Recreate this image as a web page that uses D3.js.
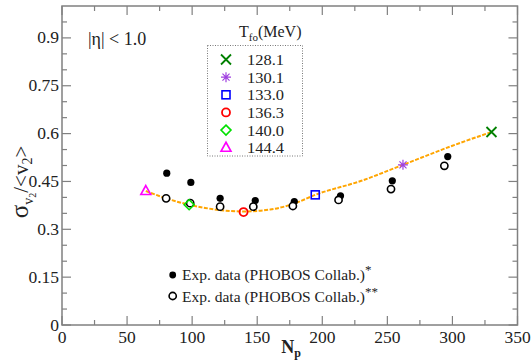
<!DOCTYPE html>
<html><head><meta charset="utf-8">
<script src="https://cdn.jsdelivr.net/npm/d3@7"></script>
<style>body{margin:0;background:#fff}svg{display:block}text{font-family:"Liberation Serif","DejaVu Serif",serif}</style>
</head><body><svg id="c" width="532" height="363"></svg>
<script>
const xTicks=[0,50,100,150,200,250,300,350];
const yTicks=[0,0.15,0.3,0.45,0.6,0.75,0.9];
const yTickLabels=["0","0.15","0.3","0.45","0.6","0.75","0.9"];
const filledX=[80.5,99,121.5,148.5,178.5,214,253.8,296.4];
const filledY=[0.476,0.447,0.397,0.390,0.387,0.405,0.452,0.528];
const openX=[80,98.5,121.5,147,177.4,212.5,252.8,293.8];
const openY=[0.397,0.382,0.371,0.371,0.373,0.392,0.426,0.499];
const curveX=[64.4,80,97.7,110,121.5,139.5,160,178,194.6,230,262,300,330];
const curveY=[0.420,0.397,0.377,0.367,0.360,0.356,0.362,0.380,0.408,0.452,0.502,0.562,0.605];
const tfoLabels=["128.1","130.1","133.0","136.3","140.0","144.4"];
const tfoX=[330,262,194.6,139.5,97.7,64.4];
const tfoY=[0.605,0.502,0.408,0.354,0.377,0.420];
const tfoColors=["#008000","#a040e0","#0000ff","#ff0000","#00e000","#ff00ff"];
const tfoShapes=["x","star","square","circle","diamond","triangle"];

const svg=d3.select("#c");
const L=62,R=517.5,T=6,B=325;
const x=d3.scaleLinear().domain([0,350]).range([L,R]);
const y=d3.scaleLinear().domain([0,1]).range([B,T]);
const frameCol="#808080";

svg.append("rect").attr("x",L).attr("y",T).attr("width",R-L).attr("height",B-T)
  .attr("fill","none").attr("stroke",frameCol).attr("stroke-width",1.5);

const xMinor=d3.range(25,350,50);
const yMinor=[0.05,0.1,0.2,0.25,0.35,0.4,0.5,0.55,0.65,0.7,0.8,0.85,0.95];
const tk=svg.append("g").attr("stroke",frameCol).attr("stroke-width",1.2);
function xt(v,len){tk.append("line").attr("x1",x(v)).attr("x2",x(v)).attr("y1",B).attr("y2",B-len);
  tk.append("line").attr("x1",x(v)).attr("x2",x(v)).attr("y1",T).attr("y2",T+len);}
function yt(v,len){tk.append("line").attr("y1",y(v)).attr("y2",y(v)).attr("x1",L).attr("x2",L+len);
  tk.append("line").attr("y1",y(v)).attr("y2",y(v)).attr("x1",R).attr("x2",R-len);}
xTicks.forEach(v=>xt(v,9)); xMinor.forEach(v=>xt(v,5));
yTicks.forEach(v=>yt(v,9)); yMinor.forEach(v=>yt(v,5));

svg.append("g").selectAll("text").data(xTicks).join("text")
  .attr("x",d=>x(d)).attr("y",B+18).attr("text-anchor","middle")
  .attr("font-size",17.5).attr("fill","#222").text(d=>d);
svg.append("g").selectAll("text").data(yTicks).join("text")
  .attr("x",L-3).attr("y",d=>y(d)+5.5).attr("text-anchor","end")
  .attr("font-size",17.5).attr("fill","#222").text((d,i)=>yTickLabels[i]);

const xl=svg.append("text").attr("x",291).attr("y",353).attr("text-anchor","middle").attr("font-weight","bold").attr("font-size",18).attr("fill","#222");
xl.append("tspan").text("N");
xl.append("tspan").attr("font-size",12).attr("dy",4).text("p");
const yl=svg.append("text").attr("transform","translate(28,182) rotate(-90)").attr("text-anchor","middle").attr("font-size",21).attr("fill","#222");
yl.append("tspan").attr("font-size",25).text("σ");
yl.append("tspan").attr("font-size",14).attr("dy",5).text("v");
yl.append("tspan").attr("font-size",10).attr("dy",3).text("2");
yl.append("tspan").attr("dy",-8).text("/<v");
yl.append("tspan").attr("font-size",14).attr("dy",4).text("2");
yl.append("tspan").attr("dy",-4).text(">");

svg.append("text").attr("x",88).attr("y",45).attr("font-size",18).attr("fill","#222").text("|η| < 1.0");

const line=d3.line().x((d,i)=>x(curveX[i])).y(d=>y(d)).curve(d3.curveMonotoneX);
svg.append("path").attr("d",line(curveY)).attr("fill","none").attr("stroke","#ffa500")
  .attr("stroke-width",2).attr("stroke-dasharray","4,1.5");

svg.append("g").selectAll("circle").data(filledY).join("circle")
  .attr("cx",(d,i)=>x(filledX[i])).attr("cy",d=>y(d)).attr("r",3.6).attr("fill","#000");
svg.append("g").selectAll("circle").data(openY).join("circle")
  .attr("cx",(d,i)=>x(openX[i])).attr("cy",d=>y(d)).attr("r",3.6).attr("fill","#fff").attr("stroke","#000").attr("stroke-width",1.6);

function marker(g,shape,cx,cy,col){
  const s=5;
  if(shape==="x"){g.append("path").attr("d",`M${cx-s},${cy-s}L${cx+s},${cy+s}M${cx-s},${cy+s}L${cx+s},${cy-s}`).attr("stroke",col).attr("stroke-width",1.8);}
  else if(shape==="star"){let d="";for(let k=0;k<4;k++){const a=k*Math.PI/4;d+=`M${cx-s*Math.cos(a)},${cy-s*Math.sin(a)}L${cx+s*Math.cos(a)},${cy+s*Math.sin(a)}`;}
    g.append("path").attr("d",d).attr("stroke",col).attr("stroke-width",1.2);}
  else if(shape==="square"){g.append("rect").attr("x",cx-4).attr("y",cy-4).attr("width",8).attr("height",8).attr("fill","none").attr("stroke",col).attr("stroke-width",1.6);}
  else if(shape==="circle"){g.append("circle").attr("cx",cx).attr("cy",cy).attr("r",4).attr("fill","none").attr("stroke",col).attr("stroke-width",1.8);}
  else if(shape==="diamond"){g.append("path").attr("d",`M${cx},${cy-5}L${cx+5},${cy}L${cx},${cy+5}L${cx-5},${cy}Z`).attr("fill","none").attr("stroke",col).attr("stroke-width",1.6);}
  else if(shape==="triangle"){g.append("path").attr("d",`M${cx},${cy-5.5}L${cx+5},${cy+3.5}L${cx-5},${cy+3.5}Z`).attr("fill","none").attr("stroke",col).attr("stroke-width",1.6);}
}
const mg=svg.append("g");
tfoX.forEach((v,i)=>marker(mg,tfoShapes[i],x(v),y(tfoY[i]),tfoColors[i]));

svg.append("rect").attr("x",207.5).attr("y",45.5).attr("width",95).attr("height",110.5)
  .attr("fill","none").attr("stroke","#555").attr("stroke-width",0.8).attr("stroke-dasharray","1,1.5");
const tt=svg.append("text").attr("x",239).attr("y",37).attr("font-size",16).attr("fill","#222");
tt.append("tspan").text("T");
tt.append("tspan").attr("font-size",11).attr("dy",4).text("fo");
tt.append("tspan").attr("dy",-4).text("(MeV)");
const lg=svg.append("g");
tfoLabels.forEach((t,i)=>{
  const cy=59.5+i*17.65;
  marker(lg,tfoShapes[i],226,cy,tfoColors[i]);
  lg.append("text").attr("x",247).attr("y",cy+5.5).attr("font-size",15.5).attr("fill","#222")
    .attr("textLength",37).attr("lengthAdjust","spacingAndGlyphs").text(t);
});

svg.append("circle").attr("cx",172.7).attr("cy",275).attr("r",3.4).attr("fill","#000");
svg.append("circle").attr("cx",172.7).attr("cy",296).attr("r",3.6).attr("fill","#fff").attr("stroke","#000").attr("stroke-width",1.6);
const e1=svg.append("text").attr("x",182).attr("y",280).attr("font-size",15.5).attr("fill","#222");
e1.append("tspan").text("Exp. data (PHOBOS Collab.)");
e1.append("tspan").attr("dy",-6).attr("font-size",13).text("*");
const e2=svg.append("text").attr("x",182).attr("y",301.5).attr("font-size",15.5).attr("fill","#222");
e2.append("tspan").text("Exp. data (PHOBOS Collab.)");
e2.append("tspan").attr("dy",-6).attr("font-size",13).text("**");
</script></body></html>
